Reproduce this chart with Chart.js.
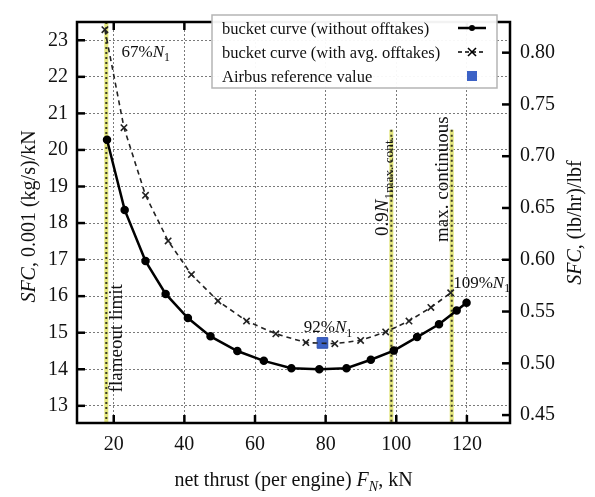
<!DOCTYPE html>
<html>
<head>
<meta charset="utf-8">
<script src="https://cdn.jsdelivr.net/npm/chart.js@4.4.0/dist/chart.umd.min.js"></script>
<style>
body { margin: 0; background: #fff; }
#wrap { width: 595px; height: 497px; }
</style>
</head>
<body>
<div id="wrap"><canvas id="chart" width="595" height="497"></canvas></div>
<script>
// values
const thrustNoOff = [18.1, 23.1, 29.0, 34.7, 41.0, 47.4, 55.0, 62.5, 70.3, 78.2, 85.9, 92.8, 99.3, 105.9, 112.1, 117.1, 119.9];
const sfcNoOff    = [20.28, 18.36, 16.96, 16.06, 15.40, 14.90, 14.50, 14.23, 14.03, 14.00, 14.03, 14.26, 14.51, 14.88, 15.23, 15.61, 15.82];
const thrustOff   = [17.5, 22.9, 29.0, 35.4, 42.0, 49.5, 57.6, 65.9, 74.4, 82.6, 89.9, 97.0, 103.6, 109.8, 115.4];
const sfcOff      = [23.29, 20.61, 18.76, 17.51, 16.59, 15.87, 15.32, 14.97, 14.73, 14.70, 14.79, 15.02, 15.32, 15.69, 16.09];
const airbusThrust = [79.1];
const airbusSfc    = [14.72];

const xTicks  = [20, 40, 60, 80, 100, 120];
const yTicks  = [13, 14, 15, 16, 17, 18, 19, 20, 21, 22, 23];
const y2Ticks = [0.45, 0.50, 0.55, 0.60, 0.65, 0.70, 0.75, 0.80];

// 0.001 (kg/s)/kN -> (lb/hr)/lbf
const toLbHrLbf = 0.035303;
const xMin = 9.6, xMax = 132.2, yMin = 12.53, yMax = 23.5;

// vertical limit lines (thrust, top of line)
const limitThrust = [17.9, 98.6, 115.7];
const limitTop    = [yMax, 20.55, 20.55];

const SERIF = "'Liberation Serif', 'DejaVu Serif', serif";
const INK = '#111';

function fnt(size, it) {
    return (it ? 'italic ' : '') + size + 'px ' + SERIF;
}

// draw text made of parts (italic / subscript), centred or left aligned
function rich(ctx, parts, x, y, size, rot, align) {
    ctx.save();
    ctx.translate(x, y);
    if (rot) ctx.rotate(rot);
    ctx.fillStyle = INK;
    ctx.textBaseline = 'alphabetic';
    let w = 0;
    parts.forEach(p => {
        ctx.font = fnt(p.sub ? size * 0.7 : size, p.it);
        p.w = ctx.measureText(p.t).width;
        w += p.w;
    });
    let cx = align === 'left' ? 0 : -w / 2;
    parts.forEach(p => {
        ctx.font = fnt(p.sub ? size * 0.7 : size, p.it);
        ctx.fillText(p.t, cx, p.sub ? size * 0.6 : size * 0.35);
        cx += p.w;
    });
    ctx.restore();
}

function seg(ctx, x1, y1, x2, y2) {
    ctx.beginPath();
    ctx.moveTo(x1, y1);
    ctx.lineTo(x2, y2);
    ctx.stroke();
}

const decor = {
    id: 'decor',
    beforeDatasetsDraw(chart) {
        const { ctx, scales: { x, y } } = chart;
        limitThrust.forEach((t, i) => {
            const px = x.getPixelForValue(t);
            const top = y.getPixelForValue(limitTop[i]);
            const bot = y.getPixelForValue(yMin);
            ctx.save();
            ctx.strokeStyle = '#e3e67c';
            ctx.lineWidth = 4;
            seg(ctx, px, top, px, bot);
            ctx.strokeStyle = '#3b3b28';
            ctx.lineWidth = 2;
            ctx.setLineDash([2, 3]);
            seg(ctx, px, top, px, bot);
            ctx.restore();
        });
    },
    afterDraw(chart) {
        const { ctx, chartArea: a, scales: { x, y, y2 } } = chart;
        ctx.save();

        // frame + inward ticks
        ctx.strokeStyle = '#000';
        ctx.lineWidth = 2.5;
        ctx.strokeRect(a.left, a.top, a.right - a.left, a.bottom - a.top);
        xTicks.forEach(v => {
            const px = x.getPixelForValue(v);
            seg(ctx, px, a.bottom, px, a.bottom - 8);
            seg(ctx, px, a.top, px, a.top + 8);
        });
        yTicks.forEach(v => {
            const py = y.getPixelForValue(v);
            seg(ctx, a.left, py, a.left + 8, py);
        });
        y2Ticks.forEach(v => {
            const py = y2.getPixelForValue(v);
            seg(ctx, a.right, py, a.right - 8, py);
        });

        // annotations
        const N1 = pre => [{ t: pre }, { t: 'N', it: true }, { t: '1', sub: true }];
        rich(ctx, N1('67%'), x.getPixelForValue(22.2), y.getPixelForValue(22.71), 17, 0, 'left');
        rich(ctx, N1('92%'), x.getPixelForValue(73.8), y.getPixelForValue(15.17), 17, 0, 'left');
        rich(ctx, N1('109%'), x.getPixelForValue(116.1), y.getPixelForValue(16.39), 17, 0, 'left');
        rich(ctx, [{ t: 'flameout limit' }], x.getPixelForValue(20.5), y.getPixelForValue(14.85), 19, -Math.PI / 2);
        rich(ctx, [{ t: '0.9' }, { t: 'N', it: true }, { t: '1', sub: true }, { t: 'max. cont.', sub: true }],
            x.getPixelForValue(95.8), y.getPixelForValue(19.0), 19, -Math.PI / 2);
        rich(ctx, [{ t: 'max. continuous' }], x.getPixelForValue(112.8), y.getPixelForValue(19.2), 19, -Math.PI / 2);

        // legend
        const lx = 212, ly = 15, lw = 285, lh = 73;
        ctx.fillStyle = 'rgba(255,255,255,0.95)';
        ctx.fillRect(lx, ly, lw, lh);
        ctx.strokeStyle = '#b5b5b5';
        ctx.lineWidth = 1.5;
        ctx.strokeRect(lx, ly, lw, lh);
        const rows = chart.data.datasets.map(d => d.label);
        rows.forEach((t, i) => rich(ctx, [{ t }], lx + 10, ly + 13 + i * 24, 16.5, 0, 'left'));
        const sx = 472;
        ctx.strokeStyle = '#000';
        ctx.fillStyle = '#000';
        ctx.lineWidth = 2.5;
        seg(ctx, sx - 14, ly + 13, sx + 14, ly + 13);
        ctx.beginPath(); ctx.arc(sx, ly + 13, 3, 0, Math.PI * 2); ctx.fill();
        ctx.lineWidth = 1.6;
        ctx.setLineDash([4, 3]);
        seg(ctx, sx - 14, ly + 37, sx + 14, ly + 37);
        ctx.setLineDash([]);
        seg(ctx, sx - 4, ly + 33, sx + 4, ly + 41);
        seg(ctx, sx - 4, ly + 41, sx + 4, ly + 33);
        ctx.fillStyle = '#3c62c6';
        ctx.fillRect(sx - 5, ly + 56, 10, 10);

        // axis titles
        const cy = (a.top + a.bottom) / 2;
        rich(ctx, [{ t: 'SFC', it: true }, { t: ', 0.001 (kg/s)/kN' }], 28, cy - 6, 20, -Math.PI / 2);
        rich(ctx, [{ t: 'SFC', it: true }, { t: ', (lb/hr)/lbf' }], 574, cy, 20, -Math.PI / 2);
        rich(ctx, [{ t: 'net thrust (per engine) ' }, { t: 'F', it: true }, { t: 'N', it: true, sub: true }, { t: ', kN' }],
            (a.left + a.right) / 2, 479, 20, 0);
        ctx.restore();
    }
};

const gridOpts = { color: '#7a7a7a', lineWidth: 1, drawTicks: false };
const tickFont = { family: SERIF, size: 20 };

new Chart(document.getElementById('chart'), {
    type: 'line',
    data: {
        datasets: [
            {
                label: 'bucket curve (without offtakes)',
                data: thrustNoOff.map((v, i) => ({ x: v, y: sfcNoOff[i] })),
                borderColor: '#000', backgroundColor: '#000',
                borderWidth: 2.5, pointStyle: 'circle', pointRadius: 3, tension: 0
            },
            {
                label: 'bucket curve (with avg. offtakes)',
                data: thrustOff.map((v, i) => ({ x: v, y: sfcOff[i] })),
                borderColor: '#222', backgroundColor: '#222',
                borderWidth: 1.6, borderDash: [5, 4], pointStyle: 'crossRot',
                pointRadius: 4.5, pointBorderWidth: 1.6, tension: 0
            },
            {
                label: 'Airbus reference value',
                data: airbusThrust.map((v, i) => ({ x: v, y: airbusSfc[i] })),
                showLine: false, pointStyle: 'rect', pointRadius: 7.5,
                backgroundColor: '#3c62c6', borderColor: '#2d4fae', pointBorderWidth: 1
            }
        ]
    },
    options: {
        responsive: false,
        animation: false,
        layout: { padding: { top: 5 } },
        plugins: { legend: { display: false }, tooltip: { enabled: false } },
        scales: {
            x: {
                type: 'linear', min: xMin, max: xMax,
                afterBuildTicks: s => { s.ticks = xTicks.map(v => ({ value: v })); },
                afterFit: s => { s.height = 74; },
                grid: gridOpts,
                border: { display: false, dash: [2, 2] },
                ticks: { padding: 10, color: INK, font: tickFont, maxRotation: 0, autoSkip: false }
            },
            y: {
                type: 'linear', min: yMin, max: yMax,
                afterBuildTicks: s => { s.ticks = yTicks.map(v => ({ value: v })); },
                afterFit: s => { s.width = 77; },
                grid: gridOpts,
                border: { display: false, dash: [2, 2] },
                ticks: { padding: 9, color: INK, font: tickFont, autoSkip: false }
            },
            y2: {
                type: 'linear', position: 'right',
                min: yMin * toLbHrLbf, max: yMax * toLbHrLbf,
                afterBuildTicks: s => { s.ticks = y2Ticks.map(v => ({ value: v })); },
                afterFit: s => { s.width = 85; },
                grid: { drawOnChartArea: false, drawTicks: false },
                border: { display: false },
                ticks: { padding: 10, color: INK, font: tickFont, autoSkip: false, callback: v => v.toFixed(2) }
            }
        }
    },
    plugins: [decor]
});
</script>
</body>
</html>
